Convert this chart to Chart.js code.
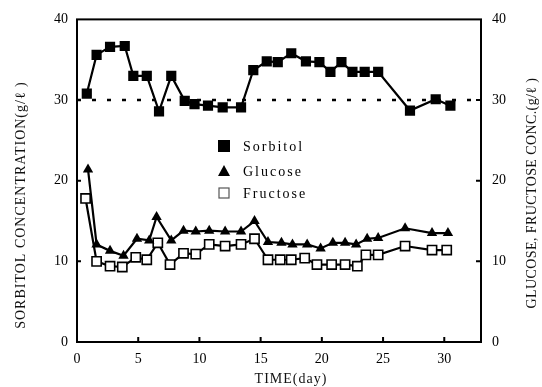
<!DOCTYPE html>
<html>
<head>
<meta charset="utf-8">
<script src="https://cdn.jsdelivr.net/npm/chart.js@4/dist/chart.umd.min.js"></script>
<style>
html,body{margin:0;padding:0;background:#fff;}
#wrap{width:542px;height:387px;position:relative;}
</style>
</head>
<body>
<div id="wrap"><canvas id="c" width="542" height="387"></canvas></div>
<script>
// ---- data ----
const sorbitolDays = [0.8,1.6,2.7,3.9,4.6,5.7,6.7,7.7,8.8,9.6,10.7,11.9,13.4,14.4,15.5,16.4,17.5,18.7,19.8,20.7,21.6,22.5,23.5,24.6,27.2,29.3,30.5];
const sorbitol     = [30.8,35.6,36.6,36.7,33.0,33.0,28.6,33.0,29.9,29.5,29.3,29.1,29.1,33.7,34.8,34.7,35.8,34.8,34.7,33.5,34.7,33.5,33.5,33.5,28.7,30.1,29.3];
const glucoseDays  = [0.9,1.6,2.7,3.8,4.9,5.9,6.5,7.7,8.7,9.7,10.8,12.1,13.4,14.5,15.6,16.7,17.6,18.8,19.9,20.9,21.9,22.8,23.7,24.6,26.8,29.0,30.3];
const glucose      = [21.4,12.1,11.3,10.7,12.8,12.6,15.5,12.6,13.8,13.7,13.8,13.7,13.7,15.0,12.4,12.3,12.1,12.1,11.6,12.3,12.3,12.1,12.8,12.9,14.1,13.5,13.5];
const fructoseDays = [0.7,1.6,2.7,3.7,4.8,5.7,6.6,7.6,8.7,9.7,10.8,12.1,13.4,14.5,15.6,16.6,17.5,18.6,19.6,20.8,21.9,22.9,23.6,24.6,26.8,29.0,30.2];
const fructose     = [17.8,10.0,9.4,9.3,10.5,10.2,12.3,9.6,11.0,10.9,12.1,11.9,12.1,12.8,10.2,10.2,10.2,10.4,9.6,9.6,9.6,9.4,10.8,10.8,11.9,11.4,11.4];
const referenceLevel = 30;
const xTicks = [0,5,10,15,20,25,30];
const yTicks = [0,10,20,30,40];
const seriesNames = ['Sorbitol','Glucose','Fructose'];
const xTitle = 'TIME(day)';
const yTitle = 'SORBITOL CONCENTRATION(g/\u2113 )';
const y2Title = 'GLUCOSE, FRUCTOSE CONC.(g/\u2113 )';

const toXY = (xs, ys) => xs.map((x, i) => ({x: x, y: ys[i]}));
const FONT = '"Liberation Serif", "DejaVu Serif", serif';

const framePlugin = {
  id: 'frame',
  afterDraw(chart) {
    const {ctx, chartArea: a, scales} = chart;
    ctx.save();
    ctx.strokeStyle = '#000';
    ctx.lineWidth = 2;
    ctx.strokeRect(a.left, a.top, a.right - a.left, a.bottom - a.top);
    // inward tick marks
    ctx.beginPath();
    xTicks.forEach(v => {
      if (v === 0) return;
      const px = scales.x.getPixelForValue(v);
      ctx.moveTo(px, a.bottom); ctx.lineTo(px, a.bottom - 5);
    });
    yTicks.forEach(v => {
      if (v === 0 || v === 40) return;
      const py = scales.y.getPixelForValue(v);
      ctx.moveTo(a.left, py); ctx.lineTo(a.left + 4, py);
      const py2 = scales.y2.getPixelForValue(v);
      ctx.moveTo(a.right, py2); ctx.lineTo(a.right - 5, py2);
    });
    ctx.stroke();

    // axis titles
    ctx.fillStyle = '#111';
    ctx.font = '14px ' + FONT;
    ctx.letterSpacing = '1px';
    ctx.textAlign = 'center';
    ctx.textBaseline = 'middle';
    ctx.fillText(xTitle, 291, 379);
    ctx.save();
    ctx.translate(21, 205);
    ctx.rotate(-Math.PI / 2);
    ctx.fillText(yTitle, 0, 0);
    ctx.restore();
    ctx.save();
    ctx.letterSpacing = '0.4px';
    ctx.translate(532, 193);
    ctx.rotate(-Math.PI / 2);
    ctx.fillText(y2Title, 0, 0);
    ctx.restore();

    // legend
    ctx.fillStyle = '#000';
    ctx.letterSpacing = '2px';
    ctx.textAlign = 'left';
    ctx.font = '14px ' + FONT;
    const lx = 224, rows = [146, 171, 193];
    ctx.fillRect(lx - 6, rows[0] - 6, 12, 12);
    ctx.beginPath();
    ctx.moveTo(lx, rows[1] - 6); ctx.lineTo(lx + 6, rows[1] + 5); ctx.lineTo(lx - 6, rows[1] + 5); ctx.closePath();
    ctx.fill();
    ctx.lineWidth = 1.2;
    ctx.strokeStyle = '#555';
    ctx.strokeRect(lx - 5, rows[2] - 5, 10, 10);
    rows.forEach((ry, i) => ctx.fillText(seriesNames[i], 243, ry + 1));
    ctx.restore();
  }
};

new Chart(document.getElementById('c'), {
  type: 'scatter',
  data: {
    datasets: [
      {
        label: 'ref', yAxisID: 'y', showLine: true,
        data: [{x: 0, y: referenceLevel}, {x: 33, y: referenceLevel}],
        borderColor: '#000', borderWidth: 2.5, borderDash: [4, 11],
        pointRadius: 0
      },
      {
        label: seriesNames[0], yAxisID: 'y', showLine: true,
        data: toXY(sorbitolDays, sorbitol),
        borderColor: '#000', borderWidth: 2.2,
        pointStyle: 'rect', pointRadius: 7.2,
        pointBackgroundColor: '#000', pointBorderColor: '#000', pointBorderWidth: 0
      },
      {
        label: seriesNames[1], yAxisID: 'y2', showLine: true,
        data: toXY(glucoseDays, glucose),
        borderColor: '#000', borderWidth: 2.2,
        pointStyle: 'triangle', pointRadius: 6,
        pointBackgroundColor: '#000', pointBorderColor: '#000', pointBorderWidth: 0
      },
      {
        label: seriesNames[2], yAxisID: 'y2', showLine: true,
        data: toXY(fructoseDays, fructose),
        borderColor: '#000', borderWidth: 2.2,
        pointStyle: 'rect', pointRadius: 6.5,
        pointBackgroundColor: '#fff', pointBorderColor: '#000', pointBorderWidth: 1.6
      }
    ]
  },
  options: {
    responsive: false,
    animation: false,
    layout: {padding: {top: 15, left: 0, right: 0, bottom: 0}},
    plugins: {legend: {display: false}, tooltip: {enabled: false}},
    scales: {
      x: {
        type: 'linear', min: 0, max: 33,
        grid: {display: false, drawTicks: false},
        border: {display: false},
        ticks: {stepSize: 5, includeBounds: false, color: '#000', padding: 9,
                font: {family: FONT, size: 14}},
        afterFit: s => { s.height = 45; }
      },
      y: {
        position: 'left', min: 0, max: 40,
        grid: {display: false, drawTicks: false},
        border: {display: false},
        ticks: {stepSize: 10, color: '#000', padding: 9,
                font: {family: FONT, size: 14}},
        afterFit: s => { s.width = 77; }
      },
      y2: {
        position: 'right', min: 0, max: 40,
        grid: {display: false, drawTicks: false},
        border: {display: false},
        ticks: {stepSize: 10, color: '#000', padding: 11,
                font: {family: FONT, size: 14}},
        afterFit: s => { s.width = 61; }
      }
    }
  },
  plugins: [framePlugin]
});
</script>
</body>
</html>
